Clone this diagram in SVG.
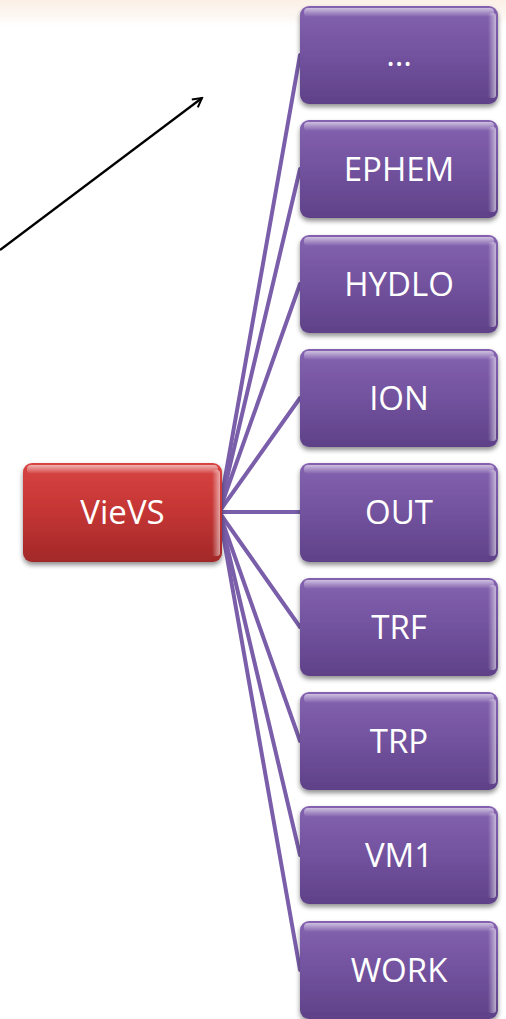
<svg xmlns="http://www.w3.org/2000/svg" width="506" height="1019" viewBox="0 0 506 1019">
<defs>
<linearGradient id="band" x1="0" y1="0" x2="0" y2="1">
<stop offset="0" stop-color="#FBF0E6"/>
<stop offset="0.6" stop-color="#FDF7F2"/>
<stop offset="1" stop-color="#FFFFFF"/>
</linearGradient>
<linearGradient id="pur" x1="0" y1="0" x2="0" y2="1">
<stop offset="0" stop-color="#8462B0"/>
<stop offset="0.5" stop-color="#72529E"/>
<stop offset="1" stop-color="#5F4188"/>
</linearGradient>
<linearGradient id="red" x1="0" y1="0" x2="0" y2="1">
<stop offset="0" stop-color="#D84442"/>
<stop offset="0.5" stop-color="#C43534"/>
<stop offset="1" stop-color="#A22828"/>
</linearGradient>
<linearGradient id="gloss" x1="0" y1="0" x2="0" y2="1">
<stop offset="0" stop-color="#FFFFFF" stop-opacity="0.6"/>
<stop offset="1" stop-color="#FFFFFF" stop-opacity="0"/>
</linearGradient>
<linearGradient id="side" x1="0" y1="0" x2="1" y2="0">
<stop offset="0" stop-color="#FFFFFF" stop-opacity="0"/>
<stop offset="1" stop-color="#FFFFFF" stop-opacity="0.55"/>
</linearGradient>
<filter id="sh" x="-10%" y="-10%" width="120%" height="130%">
<feGaussianBlur in="SourceAlpha" stdDeviation="2.5"/>
<feOffset dx="0" dy="3" result="b"/>
<feComponentTransfer><feFuncA type="linear" slope="0.45"/></feComponentTransfer>
<feMerge><feMergeNode/><feMergeNode in="SourceGraphic"/></feMerge>
</filter>
<marker id="arr" viewBox="0 0 12 12" refX="10" refY="6" markerWidth="12" markerHeight="12" markerUnits="userSpaceOnUse" orient="auto">
<path d="M1,1 L10,6 L1,11" fill="none" stroke="#000" stroke-width="2"/>
</marker>
</defs>
<style>
.box{filter:url(#sh)}
.lbl{font-family:"Open Sans","Liberation Sans",sans-serif;font-size:33px;fill:#FFFFFF;text-anchor:middle}
.con line{stroke:#7A5EAA;stroke-width:4;stroke-linecap:round}
.gl{fill:url(#gloss)}
.sd{fill:url(#side)}
</style>
<rect x="0" y="0" width="506" height="26" fill="url(#band)"/>
<g id="connectors" class="con">
<line x1="219" y1="512" x2="300" y2="55"/>
<line x1="219" y1="512" x2="300" y2="169"/>
<line x1="219" y1="512" x2="300" y2="284"/>
<line x1="219" y1="512" x2="300" y2="398"/>
<line x1="219" y1="512" x2="300" y2="512"/>
<line x1="219" y1="512" x2="300" y2="627"/>
<line x1="219" y1="512" x2="300" y2="741"/>
<line x1="219" y1="512" x2="300" y2="855"/>
<line x1="219" y1="512" x2="300" y2="970"/>
</g>
<g id="arrow">
<line x1="0" y1="250" x2="202" y2="98" stroke="#000" stroke-width="2.2" marker-end="url(#arr)"/>
</g>
<g id="node-vievs">
<rect class="box" x="23" y="463" width="199" height="99" rx="9" fill="url(#red)"/>
<rect class="gl" x="27" y="465" width="191" height="9" rx="4"/>
<rect class="sd" x="212" y="470" width="8" height="86" rx="3"/>
<text class="lbl" x="122.5" y="524">VieVS</text>
</g>
<g id="node-dots">
<rect class="box" x="300" y="6" width="198" height="98" rx="9" fill="url(#pur)"/>
<rect class="gl" x="304" y="8" width="190" height="9" rx="4"/>
<rect class="sd" x="488" y="13" width="8" height="85" rx="3"/>
<text class="lbl" x="399" y="66">…</text>
</g>
<g id="node-ephem">
<rect class="box" x="300" y="120" width="198" height="98" rx="9" fill="url(#pur)"/>
<rect class="gl" x="304" y="122" width="190" height="9" rx="4"/>
<rect class="sd" x="488" y="127" width="8" height="85" rx="3"/>
<text class="lbl" x="399" y="181">EPHEM</text>
</g>
<g id="node-hydlo">
<rect class="box" x="300" y="235" width="198" height="98" rx="9" fill="url(#pur)"/>
<rect class="gl" x="304" y="237" width="190" height="9" rx="4"/>
<rect class="sd" x="488" y="242" width="8" height="85" rx="3"/>
<text class="lbl" x="399" y="296">HYDLO</text>
</g>
<g id="node-ion">
<rect class="box" x="300" y="349" width="198" height="98" rx="9" fill="url(#pur)"/>
<rect class="gl" x="304" y="351" width="190" height="9" rx="4"/>
<rect class="sd" x="488" y="356" width="8" height="85" rx="3"/>
<text class="lbl" x="399" y="410">ION</text>
</g>
<g id="node-out">
<rect class="box" x="300" y="463" width="198" height="99" rx="9" fill="url(#pur)"/>
<rect class="gl" x="304" y="465" width="190" height="9" rx="4"/>
<rect class="sd" x="488" y="470" width="8" height="86" rx="3"/>
<text class="lbl" x="399" y="524">OUT</text>
</g>
<g id="node-trf">
<rect class="box" x="300" y="578" width="198" height="98" rx="9" fill="url(#pur)"/>
<rect class="gl" x="304" y="580" width="190" height="9" rx="4"/>
<rect class="sd" x="488" y="585" width="8" height="85" rx="3"/>
<text class="lbl" x="399" y="639">TRF</text>
</g>
<g id="node-trp">
<rect class="box" x="300" y="692" width="198" height="98" rx="9" fill="url(#pur)"/>
<rect class="gl" x="304" y="694" width="190" height="9" rx="4"/>
<rect class="sd" x="488" y="699" width="8" height="85" rx="3"/>
<text class="lbl" x="399" y="753">TRP</text>
</g>
<g id="node-vm1">
<rect class="box" x="300" y="806" width="198" height="98" rx="9" fill="url(#pur)"/>
<rect class="gl" x="304" y="808" width="190" height="9" rx="4"/>
<rect class="sd" x="488" y="813" width="8" height="85" rx="3"/>
<text class="lbl" x="399" y="867">VM1</text>
</g>
<g id="node-work">
<rect class="box" x="300" y="921" width="198" height="98" rx="9" fill="url(#pur)"/>
<rect class="gl" x="304" y="923" width="190" height="9" rx="4"/>
<rect class="sd" x="488" y="928" width="8" height="85" rx="3"/>
<text class="lbl" x="399" y="982">WORK</text>
</g>
</svg>
